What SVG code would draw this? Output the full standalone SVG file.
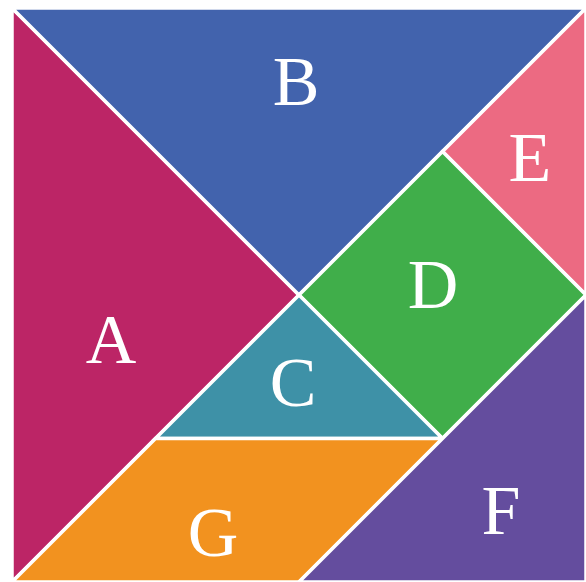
<svg xmlns="http://www.w3.org/2000/svg" width="586" height="582" viewBox="0 0 586 582">
<style>
.p{stroke:#fff;stroke-width:3.5;stroke-linejoin:miter}
.t{font-family:"Liberation Serif","DejaVu Serif",serif;font-size:70px;fill:#fff;text-anchor:middle}
</style>
<rect width="586" height="582" fill="#fff"/>
<g id="A"><polygon class="p" fill="#BC2566" points="12,8 12,582 299,295"/><text class="t" x="111" y="363">A</text></g>
<g id="B"><polygon class="p" fill="#4263AD" points="12,8 586,8 299,295"/><text class="t" x="296" y="105">B</text></g>
<g id="E"><polygon class="p" fill="#EC6A82" points="586,8 586,295 442.5,151.5"/><text class="t" x="530" y="181">E</text></g>
<g id="D"><polygon class="p" fill="#40AE4A" points="442.5,151.5 299,295 442.5,438.5 586,295"/><text class="t" x="433" y="308">D</text></g>
<g id="C"><polygon class="p" fill="#3E91A7" points="299,295 155.5,438.5 442.5,438.5"/><text class="t" x="293" y="406">C</text></g>
<g id="G"><polygon class="p" fill="#F2921F" points="155.5,438.5 442.5,438.5 299,582 12,582"/><text class="t" x="213" y="556">G</text></g>
<g id="F"><polygon class="p" fill="#644D9E" points="586,295 586,582 299,582"/><text class="t" x="501" y="534">F</text></g>
<g id="connectors"/>
</svg>
